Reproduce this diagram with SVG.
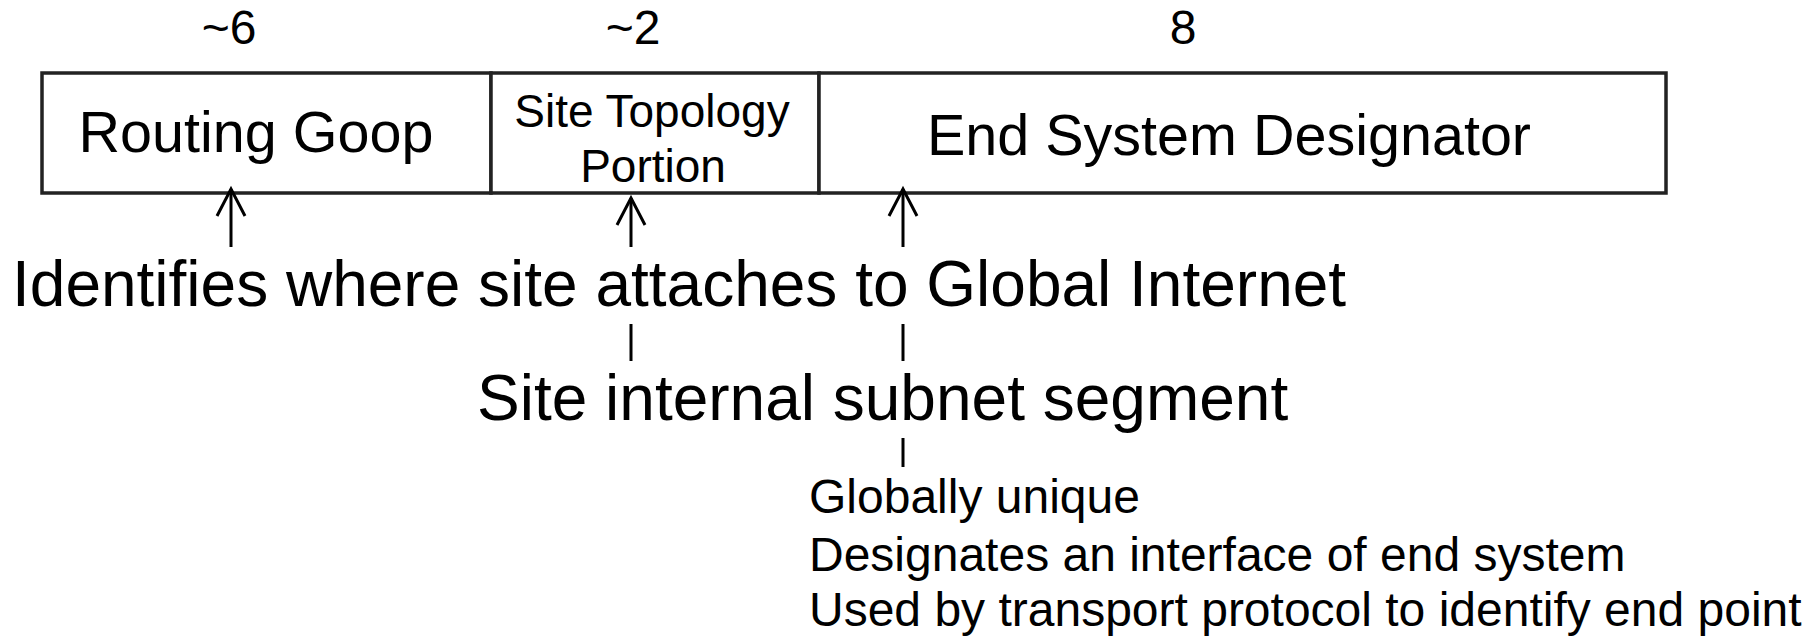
<svg xmlns="http://www.w3.org/2000/svg" width="1820" height="637" viewBox="0 0 1820 637">
  <style>
    text { font-family: "Liberation Sans", Arial, Helvetica, sans-serif; fill: #000; }
    .num { font-size: 48px; text-anchor: middle; }
    .field { fill: #fff; stroke: #222; stroke-width: 3.5; }
    .big { font-size: 57.5px; text-anchor: middle; }
    .mid { font-size: 46px; text-anchor: middle; }
    .desc { font-size: 64px; }
    .small { font-size: 48px; }
    .conn { stroke: #000; stroke-width: 3; fill: none; }
  </style>
  <defs>
    <marker id="openArrow" markerUnits="userSpaceOnUse" markerWidth="40" markerHeight="40" refX="0" refY="0" orient="auto" overflow="visible">
      <path d="M -27 -14 L 0 0 L -27 14" fill="none" stroke="#000" stroke-width="3"/>
    </marker>
  </defs>

  <g id="sizes">
    <text class="num" x="229" y="44">~6</text>
    <text class="num" x="633" y="44">~2</text>
    <text class="num" x="1183" y="44">8</text>
  </g>

  <g id="node-routing-goop">
    <rect class="field" x="42" y="73" width="449" height="120"/>
    <text class="big" x="256" y="152">Routing Goop</text>
  </g>
  <g id="node-site-topology">
    <rect class="field" x="491" y="73" width="328" height="120"/>
    <text class="mid" x="652" y="127">Site Topology</text>
    <text class="mid" x="653" y="182">Portion</text>
  </g>
  <g id="node-end-system">
    <rect class="field" x="819" y="73" width="847" height="120"/>
    <text class="big" x="1229" y="155">End System Designator</text>
  </g>

  <g id="connectors">
    <line class="conn" x1="231" y1="247" x2="231" y2="189" marker-end="url(#openArrow)"/>
    <line class="conn" x1="631" y1="247" x2="631" y2="198" marker-end="url(#openArrow)"/>
    <line class="conn" x1="903" y1="247" x2="903" y2="189" marker-end="url(#openArrow)"/>
    <line class="conn" x1="631" y1="324" x2="631" y2="361"/>
    <line class="conn" x1="903" y1="324" x2="903" y2="361"/>
    <line class="conn" x1="903" y1="438" x2="903" y2="467"/>
  </g>

  <g id="label-global">
    <text class="desc" x="12" y="306">Identifies where site attaches to Global Internet</text>
  </g>
  <g id="label-site">
    <text class="desc" x="477" y="420">Site internal subnet segment</text>
  </g>
  <g id="label-end">
    <text class="small" x="809" y="513">Globally unique</text>
    <text class="small" x="809" y="571">Designates an interface of end system</text>
    <text class="small" x="809" y="626">Used by transport protocol to identify end point</text>
  </g>
</svg>
